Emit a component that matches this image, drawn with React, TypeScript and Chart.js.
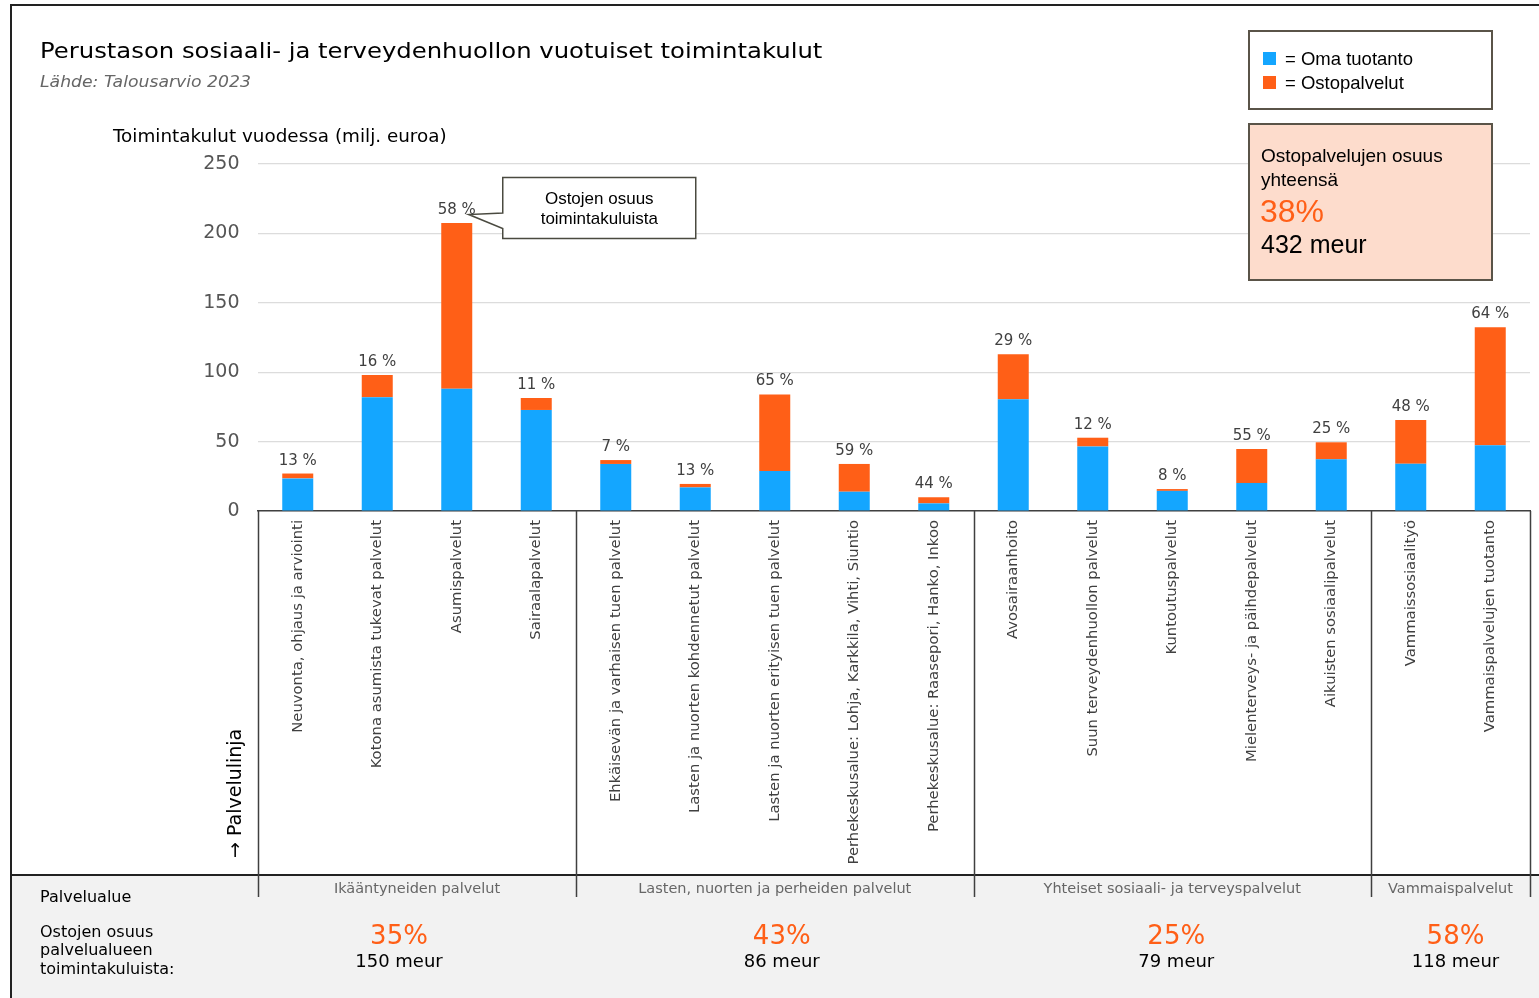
import React, { useEffect, useRef } from "react";
import { Chart, registerables } from "chart.js";

Chart.register(...registerables);

// ---------- DATA ----------
const categories = [
  "Neuvonta, ohjaus ja arviointi",
  "Kotona asumista tukevat palvelut",
  "Asumispalvelut",
  "Sairaalapalvelut",
  "Ehkäisevän ja varhaisen tuen palvelut",
  "Lasten ja nuorten kohdennetut palvelut",
  "Lasten ja nuorten erityisen tuen palvelut",
  "Perhekeskusalue: Lohja, Karkkila, Vihti, Siuntio",
  "Perhekeskusalue: Raasepori, Hanko, Inkoo",
  "Avosairaanhoito",
  "Suun terveydenhuollon palvelut",
  "Kuntoutuspalvelut",
  "Mielenterveys- ja päihdepalvelut",
  "Aikuisten sosiaalipalvelut",
  "Vammaissosiaalityö",
  "Vammaispalvelujen tuotanto",
];

const ownProduction = [23.5, 82, 88, 72.8, 33.9, 17, 28.8, 13.9, 5.5, 80.5, 46.5, 14.5, 20.2, 37.2, 34, 47.3];
const purchasedServices = [3.5, 16, 119.5, 8.6, 2.8, 2.5, 55.2, 20, 4.4, 32.5, 6.3, 1.3, 24.5, 12.3, 31.6, 85];
const purchaseShareLabels = ["13 %", "16 %", "58 %", "11 %", "7 %", "13 %", "65 %", "59 %", "44 %", "29 %", "12 %", "8 %", "55 %", "25 %", "48 %", "64 %"];

const seriesNames = ["Oma tuotanto", "Ostopalvelut"];

const groupNames = [
  "Ikääntyneiden palvelut",
  "Lasten, nuorten ja perheiden palvelut",
  "Yhteiset sosiaali- ja terveyspalvelut",
  "Vammaispalvelut",
];
const groupSizes = [4, 5, 5, 2];
const groupShares = ["35%", "43%", "25%", "58%"];
const groupMeur = ["150 meur", "86 meur", "79 meur", "118 meur"];

const totalShare = "38%";
const totalMeur = "432 meur";

const yMin = 0;
const yMax = 250;
const yStep = 50;

// ---------- TEXTS ----------
const titleText = "Perustason sosiaali- ja terveydenhuollon vuotuiset toimintakulut";
const subtitleText = "Lähde: Talousarvio 2023";
const yTitleText = "Toimintakulut vuodessa (milj. euroa)";
const xTitleText = "→ Palvelulinja";
const calloutLines = ["Ostojen osuus", "toimintakuluista"];
const summaryLines = ["Ostopalvelujen osuus", "yhteensä"];
const bandLabel = "Palvelualue";
const bandShareLines = ["Ostojen osuus", "palvelualueen", "toimintakuluista:"];

// ---------- STYLE ----------
const W = 1539;
const H = 998;
const BLUE = "#14a6ff";
const ORANGE = "#ff5f17";
const DV = '"DejaVu Sans", Verdana, sans-serif';
const AR = '"Liberation Sans", Arial, sans-serif';
const shareOffsets = [-18, 7, 4, 5];

function stretchText(ctx: CanvasRenderingContext2D, text: string, x: number, y: number, sx: number) {
  ctx.save();
  ctx.translate(x, y);
  ctx.scale(sx, 1);
  ctx.fillText(text, 0, 0);
  ctx.restore();
}

const overlayPlugin = {
  id: "overlay",
  beforeDraw(chart: any) {
    const ctx = chart.ctx as CanvasRenderingContext2D;
    const xs = chart.scales.x;
    ctx.save();
    ctx.fillStyle = "#ffffff";
    ctx.fillRect(0, 0, W, H);
    ctx.fillStyle = "#f2f2f2";
    ctx.fillRect(11, xs.bottom, W - 11, H - xs.bottom);
    ctx.restore();
  },
  afterDraw(chart: any) {
    const ctx = chart.ctx as CanvasRenderingContext2D;
    const xs = chart.scales.x;
    const ys = chart.scales.y;
    const area = chart.chartArea;
    const half = (xs.getPixelForValue(1) - xs.getPixelForValue(0)) / 2;
    ctx.save();

    // frame
    ctx.strokeStyle = "#222";
    ctx.lineWidth = 2;
    ctx.beginPath();
    ctx.moveTo(11, H);
    ctx.lineTo(11, 5);
    ctx.lineTo(W, 5);
    ctx.stroke();

    // band top line
    ctx.beginPath();
    ctx.moveTo(11, xs.bottom);
    ctx.lineTo(W, xs.bottom);
    ctx.stroke();

    // group dividers
    ctx.strokeStyle = "#404040";
    ctx.lineWidth = 1.5;
    let idx = 0;
    const bounds: number[] = [xs.getPixelForValue(0) - half];
    groupSizes.forEach((s) => {
      idx += s;
      bounds.push(xs.getPixelForValue(idx - 1) + half);
    });
    bounds.forEach((bx) => {
      ctx.beginPath();
      ctx.moveTo(Math.round(bx) + 0.5, area.bottom);
      ctx.lineTo(Math.round(bx) + 0.5, xs.bottom + 22);
      ctx.stroke();
    });

    // data labels
    ctx.fillStyle = "#404040";
    ctx.font = `15px ${DV}`;
    ctx.textAlign = "center";
    ctx.textBaseline = "alphabetic";
    categories.forEach((_, i) => {
      const top = ys.getPixelForValue(ownProduction[i] + purchasedServices[i]);
      ctx.fillText(purchaseShareLabels[i], xs.getPixelForValue(i), top - 9);
    });

    // titles
    ctx.textAlign = "left";
    ctx.fillStyle = "#000";
    ctx.font = `22px ${DV}`;
    stretchText(ctx, titleText, 40, 57.5, 1.105);
    ctx.fillStyle = "#666";
    ctx.font = `italic 16px ${DV}`;
    stretchText(ctx, subtitleText, 40, 87, 1.077);
    ctx.fillStyle = "#000";
    ctx.font = `18px ${DV}`;
    stretchText(ctx, yTitleText, 113, 142, 1.02);

    // x title rotated
    ctx.save();
    ctx.translate(241, 858);
    ctx.rotate(-Math.PI / 2);
    ctx.font = `19px ${DV}`;
    ctx.fillStyle = "#000";
    ctx.textAlign = "left";
    ctx.fillText(xTitleText, 0, 0);
    ctx.restore();

    // band texts
    ctx.fillStyle = "#000";
    ctx.font = `16px ${DV}`;
    ctx.textAlign = "left";
    ctx.fillText(bandLabel, 40, 902);
    bandShareLines.forEach((l, i) => ctx.fillText(l, 40, 936.5 + i * 18.5));

    ctx.textAlign = "center";
    groupNames.forEach((g, i) => {
      const cx = (bounds[i] + bounds[i + 1]) / 2;
      ctx.fillStyle = "#666";
      ctx.font = `14.5px ${DV}`;
      ctx.fillText(g, cx, 893);
      ctx.fillStyle = ORANGE;
      ctx.font = `26px ${DV}`;
      ctx.fillText(groupShares[i], cx + shareOffsets[i], 943.5);
      ctx.fillStyle = "#000";
      ctx.font = `18px ${DV}`;
      ctx.fillText(groupMeur[i], cx + shareOffsets[i], 967);
    });

    // legend box
    ctx.fillStyle = "#fff";
    ctx.fillRect(1249, 31, 243, 78);
    ctx.strokeStyle = "#5a5448";
    ctx.lineWidth = 2;
    ctx.strokeRect(1249, 31, 243, 78);
    const legendColors = [BLUE, ORANGE];
    ctx.textAlign = "left";
    seriesNames.forEach((n, i) => {
      ctx.fillStyle = legendColors[i];
      ctx.fillRect(1263, 52 + i * 24, 13, 13);
      ctx.fillStyle = "#000";
      ctx.font = `18.5px ${AR}`;
      ctx.fillText("= " + n, 1285, 65 + i * 23.5);
    });

    // summary box
    ctx.fillStyle = "#fddccc";
    ctx.fillRect(1249, 124, 243, 156);
    ctx.strokeRect(1249, 124, 243, 156);
    ctx.fillStyle = "#000";
    ctx.font = `19px ${AR}`;
    ctx.fillText(summaryLines[0], 1261, 162);
    ctx.fillText(summaryLines[1], 1261, 186);
    ctx.fillStyle = ORANGE;
    ctx.font = `32px ${AR}`;
    ctx.fillText(totalShare, 1260, 222);
    ctx.fillStyle = "#000";
    ctx.font = `25px ${AR}`;
    ctx.fillText(totalMeur, 1261, 253);

    // callout pointing at the largest bar's label
    const ci = 2;
    const tipX = xs.getPixelForValue(ci) + 12;
    const tipY = ys.getPixelForValue(ownProduction[ci] + purchasedServices[ci]) - 8.5;
    const bx = tipX + 34;
    const by = tipY - 37;
    const bw = 193;
    const bh = 61;
    ctx.beginPath();
    ctx.moveTo(bx, by);
    ctx.lineTo(bx + bw, by);
    ctx.lineTo(bx + bw, by + bh);
    ctx.lineTo(bx, by + bh);
    ctx.lineTo(bx, tipY + 14);
    ctx.lineTo(tipX, tipY);
    ctx.lineTo(bx, tipY - 1.5);
    ctx.closePath();
    ctx.fillStyle = "#fff";
    ctx.fill();
    ctx.strokeStyle = "#4a4a40";
    ctx.lineWidth = 1.5;
    ctx.stroke();
    ctx.fillStyle = "#000";
    ctx.font = `17px ${AR}`;
    ctx.textAlign = "center";
    ctx.fillText(calloutLines[0], bx + bw / 2, by + 27);
    ctx.fillText(calloutLines[1], bx + bw / 2, by + 47);

    ctx.restore();
  },
};

export default function App() {
  const ref = useRef<HTMLCanvasElement | null>(null);
  useEffect(() => {
    if (!ref.current) return;
    const chart = new Chart(ref.current, {
      type: "bar",
      data: {
        labels: categories,
        datasets: [
          { label: seriesNames[0], data: ownProduction, backgroundColor: BLUE, borderWidth: 0, barPercentage: 0.39, categoryPercentage: 1 },
          { label: seriesNames[1], data: purchasedServices, backgroundColor: ORANGE, borderWidth: 0, barPercentage: 0.39, categoryPercentage: 1 },
        ],
      },
      options: {
        responsive: false,
        animation: false,
        devicePixelRatio: 1,
        layout: { padding: { left: 0, right: 9, top: 164, bottom: 123 } },
        plugins: { legend: { display: false }, tooltip: { enabled: false }, title: { display: false } },
        scales: {
          x: {
            stacked: true,
            grid: { display: false, drawTicks: false },
            border: { display: true, color: "#404040", width: 1.5 },
            ticks: {
              autoSkip: false,
              minRotation: 90,
              maxRotation: 90,
              padding: 9,
              color: "#404040",
              font: { family: DV, size: 14.8 },
            },
            afterFit(scale: any) {
              scale.height = 364;
              scale.paddingLeft = 0;
              scale.paddingRight = 0;
            },
          },
          y: {
            stacked: true,
            min: yMin,
            max: yMax,
            ticks: { stepSize: yStep, padding: 18.5, color: "#555", font: { family: DV, size: 19 } },
            grid: { color: "#dcdcdc", lineWidth: 1.2, drawTicks: false },
            border: { display: false },
            afterFit(scale: any) {
              scale.width = 258;
              scale.paddingTop = 0;
              scale.paddingBottom = 0;
            },
          },
        },
      },
      plugins: [overlayPlugin],
    });
    return () => chart.destroy();
  }, []);
  return (
    <div style={{ position: "absolute", left: 0, top: 0, width: W, height: H }}>
      <canvas ref={ref} width={W} height={H} style={{ display: "block" }} />
    </div>
  );
}
